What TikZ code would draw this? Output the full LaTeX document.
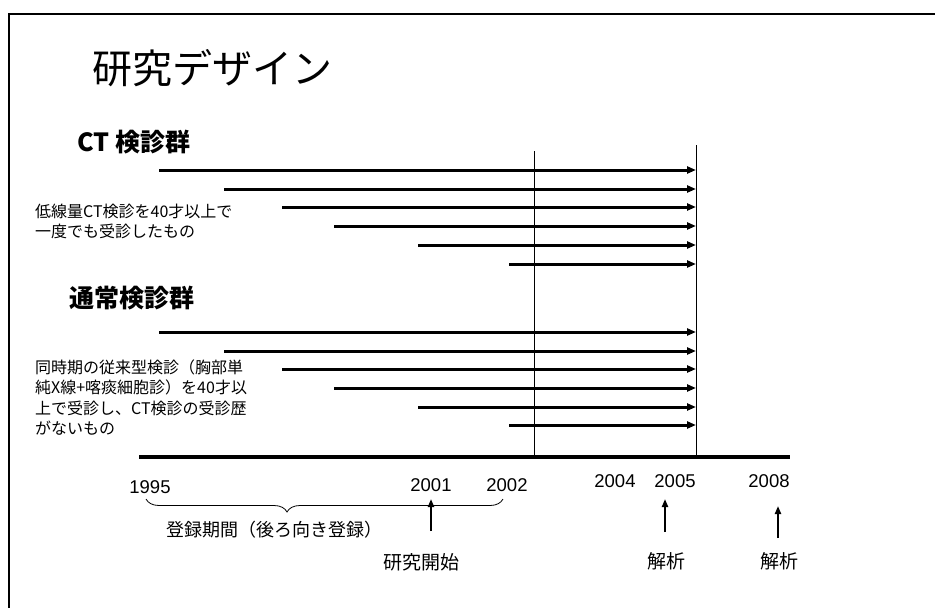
\documentclass[tikz,border=0pt]{standalone}
\usepackage{fontspec}
\setmainfont{Liberation Sans}
\newfontfamily\jp{Noto Sans CJK JP}
\usetikzlibrary{arrows.meta,decorations.pathreplacing}
\begin{document}
\begin{tikzpicture}[x=1pt,y=-1pt,
  grp/.style={line width=3pt, -{Triangle[length=9pt,width=7pt]}},
  vline/.style={line width=1pt},
  upar/.style={line width=2pt, -{Triangle[length=8pt,width=6pt]}},
  yr/.style={font=\fontsize{18.5}{20}\selectfont, inner sep=0pt},
  lbl/.style={font=\jp\fontsize{19}{22}\selectfont, inner sep=0pt},
  desc/.style={font=\jp\fontsize{16}{20.5}\selectfont, inner sep=0pt, anchor=west, align=left},
  head/.style={font=\jp\bfseries\fontsize{25}{28}\selectfont, inner sep=0pt, anchor=west},
]
\useasboundingbox (0,0) rectangle (935,608);
% frame
\coordinate (fr1) at (9,608);
\coordinate (fr2) at (9,14);
\coordinate (fr3) at (935,14);
\draw[line width=2pt] (fr1) -- (fr2) -- (fr3);

% title
\node[anchor=west, font=\jp\fontsize{40}{44}\selectfont, inner sep=0pt] (title) at (92,68) {研究デザイン};

% headings
\node[head] (ct) at (77,142) {CT 検診群};
\node[head] (normal) at (69,298) {通常検診群};

% descriptions
\node[desc] (ctdesc) at (35,221.5) {低線量CT検診を40才以上で\\一度でも受診したもの};
\node[desc] (nodesc) at (35,397.5) {同時期の従来型検診（胸部単\\純X線+喀痰細胞診）を40才以\\上で受診し、CT検診の受診歴\\がないもの};

% vertical lines and baseline
\coordinate (v1t) at (534,151);
\coordinate (v1b) at (534,457);
\coordinate (v2t) at (696,145);
\coordinate (v2b) at (696,457);
\draw[vline] (v1t) -- (v1b);
\draw[vline] (v2t) -- (v2b);
\coordinate (bl) at (139,457);
\coordinate (br) at (790,457);
\draw[line width=4pt] (bl) -- (br);

% group arrows
\foreach \y [count=\i] in {170,189,207,226,245,264} {
  \pgfmathsetmacro{\sx}{{159,224,282,334,418,509}[\i-1]}
  \coordinate (cs\i) at (\sx,\y);
  \coordinate (ce\i) at (696,\y);
  \draw[grp] (cs\i) -- (ce\i);
}
\foreach \y [count=\i] in {332,351,369,388,407,425} {
  \pgfmathsetmacro{\sx}{{159,224,282,334,418,509}[\i-1]}
  \coordinate (ns\i) at (\sx,\y);
  \coordinate (ne\i) at (696,\y);
  \draw[grp] (ns\i) -- (ne\i);
}

% years
\node[yr] (y1995) at (150,487) {1995};
\node[yr] (y2001) at (431,485) {2001};
\node[yr] (y2002) at (507,485) {2002};
\node[yr] (y2004) at (615,481) {2004};
\node[yr] (y2005) at (675,481) {2005};
\node[yr] (y2008) at (769,481) {2008};

% brace
\coordinate (brl) at (146,499);
\coordinate (brr) at (503,499);
\draw[line width=0.8pt, decorate, decoration={brace, mirror, amplitude=13pt, aspect=0.395}] (brl) -- (brr);
\node[lbl, font=\jp\fontsize{18}{22}\selectfont] (reg) at (274,530) {登録期間（後ろ向き登録）};

% up arrows and labels
\coordinate (a1b) at (431,531);
\coordinate (a1t) at (431,499);
\draw[upar] (a1b) -- (a1t);
\node[lbl] (start) at (421,562) {研究開始};
\coordinate (a2b) at (665,532);
\coordinate (a2t) at (665,499);
\draw[upar] (a2b) -- (a2t);
\node[lbl] (an1) at (666,561) {解析};
\coordinate (a3b) at (778,538);
\coordinate (a3t) at (778,506);
\draw[upar] (a3b) -- (a3t);
\node[lbl] (an2) at (779,561) {解析};
\end{tikzpicture}
\end{document}
